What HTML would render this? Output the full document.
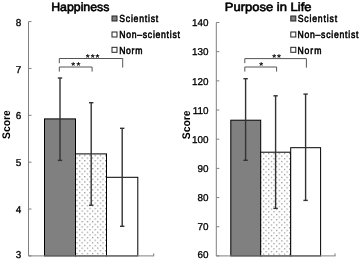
<!DOCTYPE html>
<html><head><meta charset="utf-8"><style>
html,body{margin:0;padding:0;background:#fff;width:361px;height:260px;overflow:hidden}
svg{display:block;will-change:transform;text-rendering:geometricPrecision}
</style></head><body>
<svg width="361" height="260" viewBox="0 0 361 260" font-family='"Liberation Sans", sans-serif'>
<defs>
<pattern id="dotsL" x="2.7" y="2.9" width="5.2" height="5.3" patternUnits="userSpaceOnUse">
<rect width="5.2" height="5.3" fill="#fff"/>
<rect x="0.9" y="0.9" width="1.2" height="1.2" fill="#8a8a8a"/>
<rect x="3.5" y="3.55" width="1.2" height="1.2" fill="#8a8a8a"/>
</pattern>
<pattern id="dotsR" x="4.75" y="3.6" width="5.25" height="5.3" patternUnits="userSpaceOnUse">
<rect width="5.25" height="5.3" fill="#fff"/>
<rect x="0.9" y="0.9" width="1.2" height="1.2" fill="#8a8a8a"/>
<rect x="3.525" y="3.55" width="1.2" height="1.2" fill="#8a8a8a"/>
</pattern>
</defs>
<rect width="361" height="260" fill="#fff"/>
<line x1="28.5" y1="21.6" x2="28.5" y2="255.9" stroke="#808080" stroke-width="1"/>
<line x1="28.5" y1="21.6" x2="31.5" y2="21.6" stroke="#808080" stroke-width="1"/>
<text x="21.3" y="25.7" font-size="10" font-weight="normal" text-anchor="end" stroke="#000" stroke-width="0.3">8</text>
<line x1="28.5" y1="68.46" x2="31.5" y2="68.46" stroke="#808080" stroke-width="1"/>
<text x="21.3" y="72.56" font-size="10" font-weight="normal" text-anchor="end" stroke="#000" stroke-width="0.3">7</text>
<line x1="28.5" y1="115.32" x2="31.5" y2="115.32" stroke="#808080" stroke-width="1"/>
<text x="21.3" y="119.42" font-size="10" font-weight="normal" text-anchor="end" stroke="#000" stroke-width="0.3">6</text>
<line x1="28.5" y1="162.18" x2="31.5" y2="162.18" stroke="#808080" stroke-width="1"/>
<text x="21.3" y="166.28" font-size="10" font-weight="normal" text-anchor="end" stroke="#000" stroke-width="0.3">5</text>
<line x1="28.5" y1="209.04" x2="31.5" y2="209.04" stroke="#808080" stroke-width="1"/>
<text x="21.3" y="213.14" font-size="10" font-weight="normal" text-anchor="end" stroke="#000" stroke-width="0.3">4</text>
<line x1="28.5" y1="255.9" x2="31.5" y2="255.9" stroke="#808080" stroke-width="1"/>
<text x="21.3" y="257.9" font-size="10" font-weight="normal" text-anchor="end" stroke="#000" stroke-width="0.3">3</text>
<rect x="44.5" y="118.9" width="31.0" height="137.0" fill="#808080" stroke="#000000" stroke-width="1"/>
<rect x="75.5" y="153.9" width="31.0" height="102.0" fill="url(#dotsL)" stroke="#000000" stroke-width="1"/>
<rect x="106.5" y="177.3" width="31.3" height="78.6" fill="#fff" stroke="#000000" stroke-width="1"/>
<line x1="28.5" y1="255.9" x2="154.2" y2="255.9" stroke="#808080" stroke-width="1"/>
<line x1="153.7" y1="255.9" x2="153.7" y2="253.4" stroke="#808080" stroke-width="1"/>
<line x1="60" y1="78" x2="60" y2="160.4" stroke="#333333" stroke-width="1.4"/>
<line x1="57.8" y1="78" x2="62.2" y2="78" stroke="#333333" stroke-width="1.4"/>
<line x1="57.8" y1="160.4" x2="62.2" y2="160.4" stroke="#333333" stroke-width="1.4"/>
<line x1="91.2" y1="102.7" x2="91.2" y2="205.2" stroke="#333333" stroke-width="1.4"/>
<line x1="89.0" y1="102.7" x2="93.4" y2="102.7" stroke="#333333" stroke-width="1.4"/>
<line x1="89.0" y1="205.2" x2="93.4" y2="205.2" stroke="#333333" stroke-width="1.4"/>
<line x1="122.2" y1="128.3" x2="122.2" y2="226.3" stroke="#333333" stroke-width="1.4"/>
<line x1="120.0" y1="128.3" x2="124.4" y2="128.3" stroke="#333333" stroke-width="1.4"/>
<line x1="120.0" y1="226.3" x2="124.4" y2="226.3" stroke="#333333" stroke-width="1.4"/>
<polyline points="59.3,63.2 59.3,58.5 122.7,58.5 122.7,67.6" fill="none" stroke="#555555" stroke-width="1"/>
<polyline points="59.3,71.6 59.3,67 92.1,67 92.1,71.6" fill="none" stroke="#555555" stroke-width="1"/>
<line x1="216.3" y1="22.5" x2="216.3" y2="255.9" stroke="#808080" stroke-width="1"/>
<line x1="216.3" y1="22.5" x2="219.3" y2="22.5" stroke="#808080" stroke-width="1"/>
<text x="208.4" y="26.15" font-size="9.9" font-weight="normal" text-anchor="end" stroke="#000" stroke-width="0.3">140</text>
<line x1="216.3" y1="51.67" x2="219.3" y2="51.67" stroke="#808080" stroke-width="1"/>
<text x="208.4" y="55.32" font-size="9.9" font-weight="normal" text-anchor="end" stroke="#000" stroke-width="0.3">130</text>
<line x1="216.3" y1="80.85" x2="219.3" y2="80.85" stroke="#808080" stroke-width="1"/>
<text x="208.4" y="84.5" font-size="9.9" font-weight="normal" text-anchor="end" stroke="#000" stroke-width="0.3">120</text>
<line x1="216.3" y1="110.03" x2="219.3" y2="110.03" stroke="#808080" stroke-width="1"/>
<text x="208.4" y="113.68" font-size="9.9" font-weight="normal" text-anchor="end" stroke="#000" stroke-width="0.3">110</text>
<line x1="216.3" y1="139.2" x2="219.3" y2="139.2" stroke="#808080" stroke-width="1"/>
<text x="208.4" y="142.85" font-size="9.9" font-weight="normal" text-anchor="end" stroke="#000" stroke-width="0.3">100</text>
<line x1="216.3" y1="168.38" x2="219.3" y2="168.38" stroke="#808080" stroke-width="1"/>
<text x="208.4" y="172.03" font-size="9.9" font-weight="normal" text-anchor="end" stroke="#000" stroke-width="0.3">90</text>
<line x1="216.3" y1="197.55" x2="219.3" y2="197.55" stroke="#808080" stroke-width="1"/>
<text x="208.4" y="201.2" font-size="9.9" font-weight="normal" text-anchor="end" stroke="#000" stroke-width="0.3">80</text>
<line x1="216.3" y1="226.72" x2="219.3" y2="226.72" stroke="#808080" stroke-width="1"/>
<text x="208.4" y="230.38" font-size="9.9" font-weight="normal" text-anchor="end" stroke="#000" stroke-width="0.3">70</text>
<line x1="216.3" y1="255.9" x2="219.3" y2="255.9" stroke="#808080" stroke-width="1"/>
<text x="208.4" y="258.2" font-size="9.9" font-weight="normal" text-anchor="end" stroke="#000" stroke-width="0.3">60</text>
<rect x="230.8" y="120.2" width="29.899999999999977" height="135.7" fill="#808080" stroke="#000000" stroke-width="1"/>
<rect x="260.7" y="152.2" width="30.0" height="103.70000000000002" fill="url(#dotsR)" stroke="#000000" stroke-width="1"/>
<rect x="290.7" y="147.7" width="29.9" height="108.20000000000002" fill="#fff" stroke="#000000" stroke-width="1"/>
<line x1="216.3" y1="255.9" x2="335.5" y2="255.9" stroke="#808080" stroke-width="1"/>
<line x1="335.0" y1="255.9" x2="335.0" y2="253.4" stroke="#808080" stroke-width="1"/>
<line x1="245.6" y1="78.7" x2="245.6" y2="160.3" stroke="#333333" stroke-width="1.4"/>
<line x1="243.4" y1="78.7" x2="247.8" y2="78.7" stroke="#333333" stroke-width="1.4"/>
<line x1="243.4" y1="160.3" x2="247.8" y2="160.3" stroke="#333333" stroke-width="1.4"/>
<line x1="275.6" y1="95.8" x2="275.6" y2="208.4" stroke="#333333" stroke-width="1.4"/>
<line x1="273.4" y1="95.8" x2="277.8" y2="95.8" stroke="#333333" stroke-width="1.4"/>
<line x1="273.4" y1="208.4" x2="277.8" y2="208.4" stroke="#333333" stroke-width="1.4"/>
<line x1="305.6" y1="94.1" x2="305.6" y2="200.4" stroke="#333333" stroke-width="1.4"/>
<line x1="303.4" y1="94.1" x2="307.8" y2="94.1" stroke="#333333" stroke-width="1.4"/>
<line x1="303.4" y1="200.4" x2="307.8" y2="200.4" stroke="#333333" stroke-width="1.4"/>
<polyline points="244.8,63.2 244.8,58.6 306.4,58.6 306.4,67.7" fill="none" stroke="#555555" stroke-width="1"/>
<polyline points="244.8,71.6 244.8,67 276.6,67 276.6,71.6" fill="none" stroke="#555555" stroke-width="1"/>
<rect x="112" y="16" width="5" height="5" fill="#808080" stroke="#222" stroke-width="1"/>
<rect x="112" y="32" width="5" height="5" fill="#fff" stroke="#222" stroke-width="1"/>
<rect x="112" y="47.3" width="5" height="5" fill="#fff" stroke="#222" stroke-width="1"/>
<rect x="290.8" y="16" width="5" height="5" fill="#808080" stroke="#222" stroke-width="1"/>
<rect x="290.8" y="32" width="5" height="5" fill="#fff" stroke="#222" stroke-width="1"/>
<rect x="290.8" y="47.3" width="5" height="5" fill="#fff" stroke="#222" stroke-width="1"/>
<g transform="translate(119.233,21.5) scale(0.85,1)"><text x="0" y="0" font-size="10.2" font-weight="normal" textLength="45.825" lengthAdjust="spacing" stroke="#000" stroke-width="0.55">Scientist</text></g>
<g transform="translate(119.218,38) scale(0.85,1)"><text x="0" y="0" font-size="10.2" font-weight="normal" textLength="71.327" lengthAdjust="spacing" stroke="#000" stroke-width="0.55">Non–scientist</text></g>
<g transform="translate(119.127,53.6) scale(0.85,1)"><text x="0" y="0" font-size="10.2" font-weight="normal" textLength="27.467" lengthAdjust="spacing" stroke="#000" stroke-width="0.55">Norm</text></g>
<g transform="translate(297.766,21.7) scale(0.85,1)"><text x="0" y="0" font-size="10.2" font-weight="normal" textLength="46.222" lengthAdjust="spacing" stroke="#000" stroke-width="0.55">Scientist</text></g>
<g transform="translate(297.376,38) scale(0.85,1)"><text x="0" y="0" font-size="10.2" font-weight="normal" textLength="71.776" lengthAdjust="spacing" stroke="#000" stroke-width="0.55">Non–scientist</text></g>
<g transform="translate(297.386,53.6) scale(0.85,1)"><text x="0" y="0" font-size="10.2" font-weight="normal" textLength="28.265" lengthAdjust="spacing" stroke="#000" stroke-width="0.55">Norm</text></g>
<text x="51.2" y="11" font-size="12" font-weight="normal" text-anchor="start" textLength="58.199" lengthAdjust="spacingAndGlyphs" stroke="#000" stroke-width="0.6">Happiness</text>
<text x="224.81" y="11" font-size="12" font-weight="normal" text-anchor="start" textLength="86.773" lengthAdjust="spacingAndGlyphs" stroke="#000" stroke-width="0.6">Purpose in Life</text>
<text x="73.2" y="69" font-size="10" font-weight="bold" text-anchor="middle" >*</text>
<text x="78.4" y="69" font-size="10" font-weight="bold" text-anchor="middle" >*</text>
<text x="87.8" y="61" font-size="10" font-weight="bold" text-anchor="middle" >*</text>
<text x="92.6" y="61" font-size="10" font-weight="bold" text-anchor="middle" >*</text>
<text x="97.4" y="61" font-size="10" font-weight="bold" text-anchor="middle" >*</text>
<text x="261.3" y="69" font-size="10" font-weight="bold" text-anchor="middle" >*</text>
<text x="274.1" y="61" font-size="10" font-weight="bold" text-anchor="middle" >*</text>
<text x="279.0" y="61" font-size="10" font-weight="bold" text-anchor="middle" >*</text>
<g transform="translate(10,138.9) rotate(-90)"><text x="0" y="0" font-size="11" font-weight="bold" text-anchor="start" textLength="28.6" lengthAdjust="spacingAndGlyphs" >Score</text></g>
<g transform="translate(189.8,139.2) rotate(-90)"><text x="0" y="0" font-size="11" font-weight="bold" text-anchor="start" textLength="28.6" lengthAdjust="spacingAndGlyphs" >Score</text></g>
</svg>
</body></html>
